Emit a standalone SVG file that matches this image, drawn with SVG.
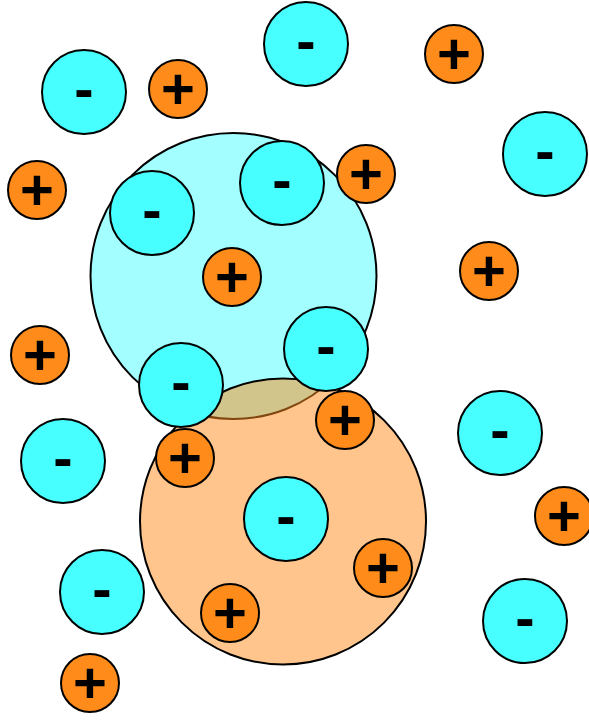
<svg xmlns="http://www.w3.org/2000/svg" width="589" height="720" viewBox="0 0 589 720">
<style>
.big{stroke:#000;stroke-width:2}
.bc{fill:#48ffff;fill-opacity:0.5}
.bo{fill:#ff8c1a;fill-opacity:0.5}
.an{fill:#48ffff;stroke:#000;stroke-width:2}
.ca{fill:#ff8c1a;stroke:#000;stroke-width:2}
text{font-family:"Liberation Sans",Arial,sans-serif;font-weight:bold;font-size:58px;text-anchor:middle;fill:#000}
</style>
<rect width="589" height="720" fill="#fff"/>
<g id="region-cyan"><circle class="big bc" cx="233.5" cy="276" r="143"/></g>
<g id="region-orange"><circle class="big bo" cx="283" cy="521.5" r="143"/></g>
<g id="connectors"></g>
<g id="a1"><circle class="an" cx="84" cy="92" r="42"/><text x="84" y="109">-</text></g>
<g id="a2"><circle class="an" cx="306" cy="44" r="42"/><text x="306" y="61">-</text></g>
<g id="a3"><circle class="an" cx="545" cy="154" r="42"/><text x="545" y="171">-</text></g>
<g id="a4"><circle class="an" cx="152" cy="213" r="42"/><text x="152" y="230">-</text></g>
<g id="a5"><circle class="an" cx="282" cy="183" r="42"/><text x="282" y="200">-</text></g>
<g id="a6"><circle class="an" cx="326" cy="349" r="42"/><text x="326" y="366">-</text></g>
<g id="a7"><circle class="an" cx="181" cy="385" r="42"/><text x="181" y="402">-</text></g>
<g id="a8"><circle class="an" cx="500" cy="433" r="42"/><text x="500" y="450">-</text></g>
<g id="a9"><circle class="an" cx="63" cy="461" r="42"/><text x="63" y="478">-</text></g>
<g id="a10"><circle class="an" cx="286" cy="519" r="42"/><text x="286" y="536">-</text></g>
<g id="a11"><circle class="an" cx="102" cy="592" r="42"/><text x="102" y="609">-</text></g>
<g id="a12"><circle class="an" cx="525" cy="621" r="42"/><text x="525" y="638">-</text></g>
<g id="c1"><circle class="ca" cx="178" cy="89" r="29"/><text x="178" y="109">+</text></g>
<g id="c2"><circle class="ca" cx="454" cy="54" r="29"/><text x="454" y="74">+</text></g>
<g id="c3"><circle class="ca" cx="37" cy="190" r="29"/><text x="37" y="210">+</text></g>
<g id="c4"><circle class="ca" cx="366" cy="174" r="29"/><text x="366" y="194">+</text></g>
<g id="c5"><circle class="ca" cx="232" cy="277" r="29"/><text x="232" y="297">+</text></g>
<g id="c6"><circle class="ca" cx="489" cy="271" r="29"/><text x="489" y="291">+</text></g>
<g id="c7"><circle class="ca" cx="40" cy="355" r="29"/><text x="40" y="375">+</text></g>
<g id="c8"><circle class="ca" cx="345" cy="420" r="29"/><text x="345" y="440">+</text></g>
<g id="c9"><circle class="ca" cx="185" cy="458" r="29"/><text x="185" y="478">+</text></g>
<g id="c10"><circle class="ca" cx="564" cy="516" r="29"/><text x="564" y="536">+</text></g>
<g id="c11"><circle class="ca" cx="383" cy="568" r="29"/><text x="383" y="588">+</text></g>
<g id="c12"><circle class="ca" cx="230" cy="613" r="29"/><text x="230" y="633">+</text></g>
<g id="c13"><circle class="ca" cx="90" cy="683" r="29"/><text x="90" y="703">+</text></g>
</svg>
